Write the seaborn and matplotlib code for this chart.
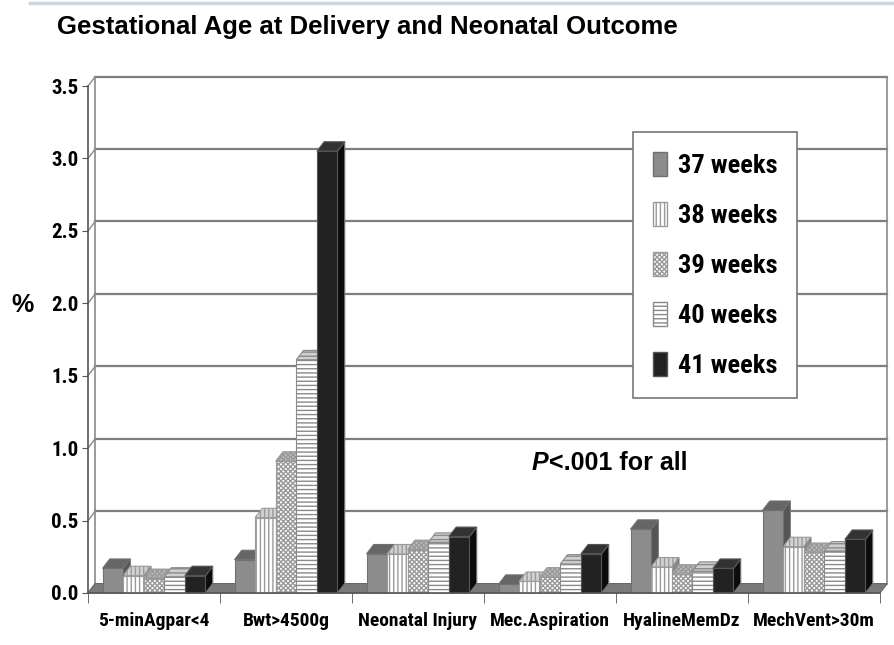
import pandas as pd
import seaborn as sns
import matplotlib.pyplot as plt
from matplotlib.patches import Polygon, Patch
from matplotlib.lines import Line2D

# Datos (% por semana de gestacion)
outcomes = ['5-minAgpar<4', 'Bwt>4500g', 'Neonatal Injury', 'Mec.Aspiration', 'HyalineMemDz', 'MechVent>30m']
weeks = ['37 weeks', '38 weeks', '39 weeks', '40 weeks', '41 weeks']
wk37 = [0.17, 0.23, 0.27, 0.06, 0.44, 0.57]
wk38 = [0.12, 0.52, 0.27, 0.08, 0.18, 0.32]
wk39 = [0.10, 0.91, 0.30, 0.11, 0.13, 0.28]
wk40 = [0.11, 1.61, 0.35, 0.20, 0.15, 0.29]
wk41 = [0.12, 3.05, 0.39, 0.27, 0.17, 0.37]
yticks = [0.0, 0.5, 1.0, 1.5, 2.0, 2.5, 3.0, 3.5]

rows = []
for week, vals in zip(weeks, [wk37, wk38, wk39, wk40, wk41]):
    for outcome, v in zip(outcomes, vals):
        rows.append({'outcome': outcome, 'week': week, 'pct': v})
df = pd.DataFrame(rows)

# estilo de cada serie: frente, borde, trama, tapa, lateral
styles = [
    dict(face='#8c8c8c', edge='#707070', hatch=None, top='#666666', side='#555555'),
    dict(face='white', edge='#9a9a9a', hatch='||||', top='#d2d2d2', side='#888888'),
    dict(face='white', edge='#999999', hatch='xxxxxxx', top='#bdbdbd', side='#888888'),
    dict(face='white', edge='#8a8a8a', hatch='----', top='#cfcfcf', side='#888888'),
    dict(face='#222222', edge='#555555', hatch=None, top='#333333', side='#0c0c0c'),
]

narrow = ['Roboto Condensed', 'DejaVu Sans']
dx, dy = 0.055, 0.065  # profundidad del efecto 3D

fig = plt.figure(figsize=(8.94, 6.45), dpi=100)
ax = fig.add_axes([88 / 894, 1 - 593 / 645, (880 - 88) / 894, (593 - 86) / 645])

sns.barplot(data=df, x='outcome', y='pct', hue='week', order=outcomes, hue_order=weeks,
            width=0.78, legend=False, ax=ax, zorder=3)
ax.set_xlim(-0.5, 5.5)
ax.set_ylim(0, 3.5)

plt.rcParams['hatch.linewidth'] = 1.0

# frente + tapa + lateral de cada barra
for k, cont in enumerate(ax.containers):
    st = styles[k]
    for bar in cont:
        bar.set_facecolor(st['face'])
        bar.set_edgecolor(st['edge'])
        bar.set_linewidth(0.8)
        bar.set_hatch(st['hatch'])
        bar.set_zorder(3)
        x0, w, h = bar.get_x(), bar.get_width(), bar.get_height()
        top = Polygon([(x0, h), (x0 + w, h), (x0 + w + dx, h + dy), (x0 + dx, h + dy)],
                      facecolor=st['top'], edgecolor=st['edge'], lw=0.8,
                      hatch=st['hatch'], zorder=2 + k * 0.1, clip_on=False)
        side = Polygon([(x0 + w, 0), (x0 + w, h), (x0 + w + dx, h + dy), (x0 + w + dx, dy)],
                       facecolor=st['side'], edgecolor='#777777', lw=0.8,
                       zorder=2 + k * 0.1, clip_on=False)
        ax.add_patch(side)
        ax.add_patch(top)

# pared del fondo y piso
for v in yticks[1:]:
    ax.plot([-0.5 + dx, 5.5 + dx], [v + dy, v + dy], color='#7f7f7f', lw=1.6, zorder=0.5, clip_on=False)
for v in yticks:
    ax.plot([-0.5, -0.5 + dx], [v, v + dy], color='#8a8a8a', lw=1.0, zorder=0.5, clip_on=False)
ax.plot([-0.5 + dx, -0.5 + dx], [dy, 3.5 + dy], color='#8a8a8a', lw=1.2, zorder=0.5, clip_on=False)
ax.plot([5.5 + dx, 5.5 + dx], [dy, 3.5 + dy], color='#8a8a8a', lw=1.2, zorder=0.5, clip_on=False)
floor = Polygon([(-0.5, 0), (5.5, 0), (5.5 + dx, dy), (-0.5 + dx, dy)],
                facecolor='#7a7a7a', edgecolor='#666666', lw=0.8, zorder=1, clip_on=False)
ax.add_patch(floor)

ax.set_facecolor('none')
for s in ['top', 'right']:
    ax.spines[s].set_visible(False)
for s in ['left', 'bottom']:
    ax.spines[s].set_color('#555555')
    ax.spines[s].set_linewidth(1.2)
    ax.spines[s].set_zorder(4)

ax.set_yticks(yticks)
ax.set_yticklabels([f'{v:.1f}' for v in yticks], fontsize=15, fontweight='bold', family=narrow)
ax.tick_params(axis='y', length=4, color='#555555', pad=3)

ax.set_xticks(range(len(outcomes)))
ax.set_xticklabels(outcomes, fontsize=14, fontweight='bold', family=narrow)
ax.set_xticks([i - 0.5 for i in range(len(outcomes) + 1)], minor=True)
ax.tick_params(axis='x', which='major', length=0, pad=14)
ax.tick_params(axis='x', which='minor', length=7, color='#555555')
ax.set_xlabel('')
ax.set_ylabel('')

# leyenda
handles = [Patch(facecolor=st['face'], edgecolor=st['edge'], hatch=st['hatch']) for st in styles]
leg = ax.legend(handles, weeks, loc='upper left', bbox_to_anchor=(0.688, 0.909),
                prop={'family': narrow, 'weight': 'bold', 'size': 19},
                handlelength=0.55, handleheight=1.0, handletextpad=0.4,
                labelspacing=0.92, borderpad=0.75, borderaxespad=0, fancybox=False, framealpha=1)
leg.get_frame().set_edgecolor('#777777')
leg.get_frame().set_linewidth(1.2)
leg.set_zorder(6)

# texto P<.001
t1 = ax.text((532 - 88) / 792, (593 - 463) / 507, 'P', transform=ax.transAxes, fontsize=18,
             fontweight='bold', fontstyle='italic', family='Liberation Sans', va='center', zorder=6)
ax.annotate('<.001 for all', xy=(1, 0), xycoords=t1, va='bottom', fontsize=18,
            fontweight='bold', family='Liberation Sans', zorder=6)

fig.text(57 / 894, 1 - 27 / 645, 'Gestational Age at Delivery and Neonatal Outcome',
         fontsize=18.5, fontweight='bold', family='Liberation Sans', va='center')
fig.text(22 / 894, 1 - 305 / 645, '%', fontsize=18, fontweight='bold',
         family='Liberation Sans', va='center', ha='center')
fig.add_artist(Line2D([30 / 894, 1], [1 - 3 / 645, 1 - 3 / 645], color='#c9d6e3', lw=2.5))

plt.savefig('out.png', dpi=100)
